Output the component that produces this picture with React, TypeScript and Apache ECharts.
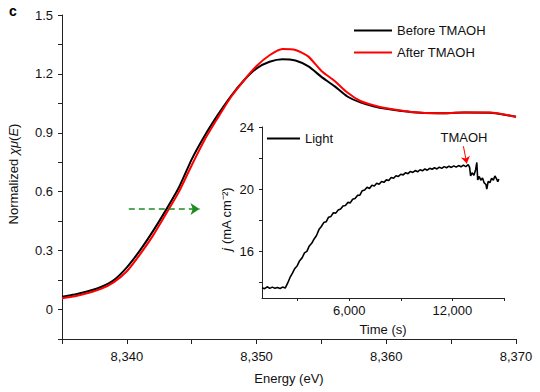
import React, { useEffect, useRef } from "react";
import * as echarts from "echarts";

const energy = [8335, 8336, 8337, 8338, 8339, 8340, 8341, 8342, 8343, 8344, 8345, 8346, 8347, 8348, 8349, 8350, 8351, 8352, 8353, 8354, 8355, 8356, 8357, 8358, 8359, 8360, 8362, 8364, 8366, 8368, 8370];
const beforeTMAOH = [0.065, 0.077, 0.093, 0.115, 0.15, 0.215, 0.3, 0.398, 0.505, 0.62, 0.765, 0.885, 0.99, 1.085, 1.165, 1.228, 1.262, 1.275, 1.268, 1.238, 1.185, 1.138, 1.085, 1.055, 1.035, 1.022, 1.005, 1.0, 1.003, 1.002, 0.982];
const afterTMAOH = [0.058, 0.068, 0.084, 0.105, 0.14, 0.195, 0.28, 0.375, 0.485, 0.598, 0.735, 0.865, 0.975, 1.08, 1.165, 1.24, 1.295, 1.327, 1.322, 1.288, 1.215, 1.165, 1.105, 1.062, 1.04, 1.025, 1.006, 1.0, 1.003, 1.003, 0.982];

const time = [930, 1080, 1230, 1380, 1530, 1680, 1830, 1980, 2130, 2280, 2420, 2560, 2700, 2840, 2980, 3120, 3260, 3400, 3540, 3680, 3820, 3960, 4100, 4240, 4380, 4520, 4660, 4800, 4940, 5080, 5220, 5360, 5500, 5640, 5780, 5920, 6060, 6200, 6340, 6480, 6620, 6760, 6900, 7040, 7180, 7320, 7460, 7600, 7740, 7880, 8020, 8160, 8300, 8440, 8580, 8720, 8860, 9000, 9140, 9280, 9420, 9560, 9700, 9840, 9980, 10120, 10260, 10400, 10540, 10680, 10820, 10960, 11100, 11240, 11380, 11520, 11660, 11800, 11940, 12080, 12220, 12360, 12500, 12640, 12780, 12920, 13000, 13060, 13140, 13250, 13350, 13420, 13470, 13560, 13650, 13750, 13850, 13950, 14000, 14080, 14180, 14280, 14380, 14470, 14560, 14640, 14700];
const current = [13.66, 13.6, 13.72, 13.62, 13.7, 13.63, 13.68, 13.61, 13.7, 13.64, 13.95, 14.32, 14.6, 14.9, 15.08, 15.4, 15.58, 15.9, 16.0, 16.35, 16.52, 16.8, 17.02, 17.4, 17.6, 17.85, 17.9, 18.2, 18.25, 18.48, 18.46, 18.66, 18.72, 18.92, 18.95, 19.15, 19.12, 19.35, 19.4, 19.6, 19.62, 19.9, 19.95, 20.12, 20.05, 20.25, 20.2, 20.38, 20.32, 20.5, 20.44, 20.6, 20.56, 20.75, 20.7, 20.86, 20.82, 20.96, 20.92, 21.06, 21.0, 21.14, 21.08, 21.2, 21.12, 21.25, 21.18, 21.3, 21.22, 21.34, 21.28, 21.38, 21.3, 21.42, 21.34, 21.45, 21.38, 21.48, 21.4, 21.5, 21.42, 21.52, 21.44, 21.55, 21.45, 21.58, 21.4, 20.85, 21.05, 20.9, 21.25, 21.72, 20.6, 20.82, 20.58, 20.72, 20.4, 20.3, 20.0, 20.5, 20.42, 20.7, 20.58, 20.85, 20.68, 20.48, 20.65];

const energyTicks = [8335, 8340, 8345, 8350, 8355, 8360, 8365, 8370];
const energyLabels = [8340, 8350, 8360, 8370];
const muTicks = [-0.15, 0, 0.15, 0.3, 0.45, 0.6, 0.75, 0.9, 1.05, 1.2, 1.35, 1.5];
const muLabels = [0, 0.3, 0.6, 0.9, 1.2, 1.5];
const timeTicks = [3000, 6000, 9000, 12000, 15000];
const timeLabels = [6000, 12000];
const jTicks = [14, 16, 18, 20, 22, 24];
const jLabels = [16, 20, 24];

const FONT = "Liberation Sans, Arial, Helvetica, sans-serif";
const AX = "#222";
const comma = (v: number) => String(Math.round(v)).replace(/\B(?=(\d{3})+(?!\d))/g, ",");

export default function App() {
  const ref = useRef<HTMLDivElement>(null);
  useEffect(() => {
    if (!ref.current) return;
    document.body.style.margin = "0";
    const chart = echarts.init(ref.current, undefined, { renderer: "svg" });
    const axisLine = { show: true, onZero: false, lineStyle: { color: AX, width: 1 } };
    const labelStyle = { color: "#111", fontSize: 13, fontFamily: FONT };
    const option: any = {
      animation: false,
      textStyle: { fontFamily: FONT },
      grid: [
        { left: 62, right: 24, top: 15, bottom: 53 },
        { left: 262, right: 36, top: 127, bottom: 94 },
      ],
      legend: [
        {
          orient: "vertical",
          left: 354,
          top: 23,
          padding: 0,
          itemWidth: 38,
          itemHeight: 2,
          itemGap: 7,
          icon: "rect",
          data: ["Before TMAOH", "After TMAOH"],
          textStyle: { ...labelStyle, lineHeight: 15 },
        },
        {
          left: 267,
          top: 131,
          padding: 0,
          itemWidth: 33,
          itemHeight: 2,
          icon: "rect",
          data: ["Light"],
          textStyle: { ...labelStyle, lineHeight: 15 },
        },
      ],
      xAxis: [
        {
          gridIndex: 0,
          type: "value",
          min: 8335,
          max: 8370,
          interval: 5,
          axisLine,
          axisTick: { show: true, length: 5, customValues: energyTicks, lineStyle: { color: AX } },
          axisLabel: { ...labelStyle, margin: 11, customValues: energyLabels, formatter: (v: number) => comma(v) },
          splitLine: { show: false },
          name: "Energy (eV)",
          nameLocation: "middle",
          nameGap: 33,
          nameTextStyle: labelStyle,
        },
        {
          gridIndex: 1,
          type: "value",
          min: 930,
          max: 15000,
          axisLine,
          axisTick: { show: true, length: 3, customValues: timeTicks, lineStyle: { color: AX } },
          axisLabel: { ...labelStyle, margin: 6, customValues: timeLabels, formatter: (v: number) => comma(v) },
          splitLine: { show: false },
          name: "Time (s)",
          nameLocation: "middle",
          nameGap: 25,
          nameTextStyle: labelStyle,
        },
      ],
      yAxis: [
        {
          gridIndex: 0,
          type: "value",
          min: -0.15,
          max: 1.5,
          axisLine,
          axisTick: { show: true, length: 4, customValues: muTicks, lineStyle: { color: AX } },
          axisLabel: { ...labelStyle, margin: 9, customValues: muLabels, formatter: (v: number) => (Math.abs(v) < 1e-9 ? "0" : v.toFixed(1)) },
          splitLine: { show: false },
        },
        {
          gridIndex: 1,
          type: "value",
          min: 13,
          max: 24,
          axisLine,
          axisTick: { show: true, length: 3, customValues: jTicks, lineStyle: { color: AX } },
          axisLabel: { ...labelStyle, margin: 8, customValues: jLabels },
          splitLine: { show: false },
        },
      ],
      series: [
        {
          name: "Before TMAOH",
          type: "line",
          xAxisIndex: 0,
          yAxisIndex: 0,
          showSymbol: false,
          smooth: 0.2,
          color: "#000000",
          lineStyle: { color: "#000000", width: 2 },
          data: energy.map((e, i) => [e, beforeTMAOH[i]]),
          z: 3,
          markLine: {
            silent: true,
            symbol: ["none", "arrow"],
            symbolSize: 9,
            label: { show: false },
            lineStyle: { color: "#1f8a1f", type: [6, 4], width: 1.5 },
            data: [[{ coord: [8340.15, 0.512] }, { coord: [8345.6, 0.512] }]],
          },
        },
        {
          name: "After TMAOH",
          type: "line",
          xAxisIndex: 0,
          yAxisIndex: 0,
          showSymbol: false,
          smooth: 0.2,
          color: "#ff0000",
          lineStyle: { color: "#ff0000", width: 2 },
          data: energy.map((e, i) => [e, afterTMAOH[i]]),
          z: 4,
        },
        {
          name: "Light",
          type: "line",
          xAxisIndex: 1,
          yAxisIndex: 1,
          showSymbol: false,
          color: "#000000",
          lineStyle: { color: "#000000", width: 1.6 },
          data: time.map((t, i) => [t, current[i]]),
          markLine: {
            silent: true,
            symbol: ["none", "arrow"],
            symbolSize: 7,
            label: { show: false },
            lineStyle: { color: "#ff0000", type: "solid", width: 1 },
            data: [[{ coord: [12640, 22.76] }, { coord: [12836, 21.65] }]],
          },
        },
      ],
      graphic: [
        { type: "text", left: 9, top: 4, style: { text: "c", font: `bold 14px ${FONT}`, fill: "#000" } },
        {
          type: "text",
          x: 13,
          y: 174,
          rotation: Math.PI / 2,
          style: {
            text: "Normalized {i|χμ}({i|E})",
            font: `13px ${FONT}`,
            fill: "#111",
            align: "center",
            verticalAlign: "middle",
            rich: { i: { fontStyle: "italic", fontSize: 13, fontFamily: FONT, fill: "#111" } },
          },
        },
        {
          type: "text",
          x: 226,
          y: 219,
          rotation: Math.PI / 2,
          style: {
            text: "{i|j} (mA cm⁻²)",
            font: `13px ${FONT}`,
            fill: "#111",
            align: "center",
            verticalAlign: "middle",
            rich: {
              i: { fontStyle: "italic", fontSize: 13, fontFamily: FONT, fill: "#111" },
            },
          },
        },
        {
          type: "text",
          x: 464,
          y: 137,
          style: { text: "TMAOH", font: `13px ${FONT}`, fill: "#111", align: "center", verticalAlign: "middle" },
        },
      ],
    };
    chart.setOption(option);
    return () => chart.dispose();
  }, []);
  return <div ref={ref} style={{ width: 540, height: 392 }} />;
}
